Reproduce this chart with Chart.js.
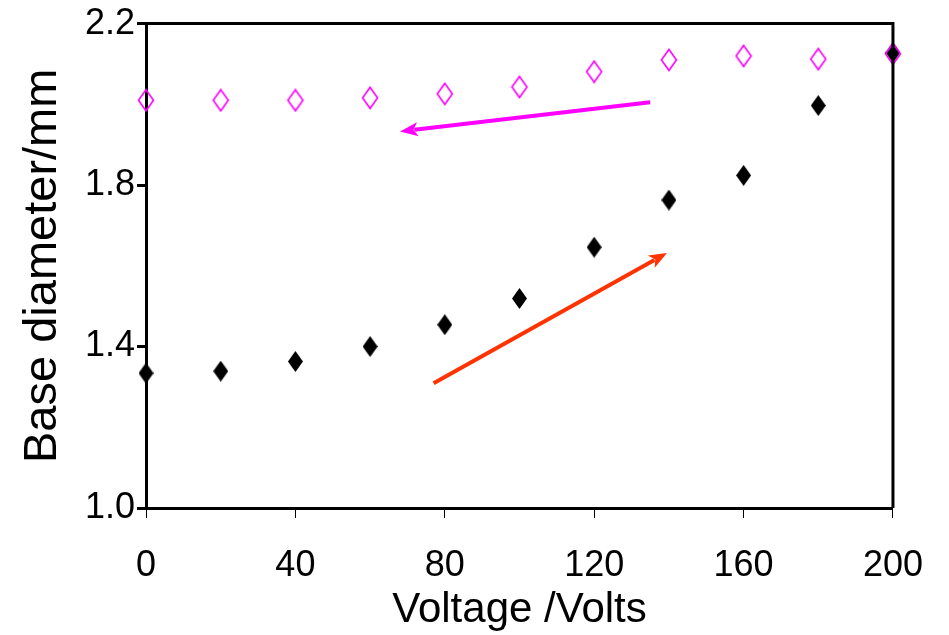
<!DOCTYPE html>
<html>
<head>
<meta charset="utf-8">
<script src="https://cdn.jsdelivr.net/npm/chart.js@4/dist/chart.umd.min.js"></script>
<style>
  html, body { margin: 0; padding: 0; background: #fff; }
  #wrap { width: 949px; height: 635px; }
</style>
</head>
<body>
<div id="wrap"><canvas id="baseChart"></canvas></div>
<script>
// data
const voltages = [0, 20, 40, 60, 80, 100, 120, 140, 160, 180, 200];
const openSeries = [2.010, 2.010, 2.010, 2.016, 2.026, 2.043, 2.081, 2.110, 2.120, 2.112, 2.125];
const filledSeries = [1.334, 1.339, 1.363, 1.400, 1.454, 1.519, 1.646, 1.763, 1.824, 1.997, 2.128];
const xTicks = [0, 40, 80, 120, 160, 200];
const yTicks = [1.0, 1.4, 1.8, 2.2];

// annotation arrows, in data units [voltage, diameter]
const arrowMagenta = [[135, 2.005], [68, 1.933]];
const arrowRed = [[77, 1.309], [139.5, 1.632]];

// tall diamond marker drawn on a small canvas
function diamond(w, h, fill, stroke, lw) {
    const c = document.createElement('canvas');
    c.width = w + lw * 2;
    c.height = h + lw * 2;
    const g = c.getContext('2d');
    const cx = c.width / 2, cy = c.height / 2;
    g.beginPath();
    g.moveTo(cx, cy - h / 2);
    g.lineTo(cx + w / 2, cy);
    g.lineTo(cx, cy + h / 2);
    g.lineTo(cx - w / 2, cy);
    g.closePath();
    if (fill) { g.fillStyle = fill; g.fill(); }
    if (stroke) { g.strokeStyle = stroke; g.lineWidth = lw; g.stroke(); }
    return c;
}

const arrowPlugin = {
    id: 'arrows',
    afterDatasetsDraw(chart) {
        const { ctx, scales: { x, y } } = chart;
        const draw = (pts, color) => {
            const x1 = x.getPixelForValue(pts[0][0]), y1 = y.getPixelForValue(pts[0][1]);
            const x2 = x.getPixelForValue(pts[1][0]), y2 = y.getPixelForValue(pts[1][1]);
            const ang = Math.atan2(y2 - y1, x2 - x1);
            const head = 18, half = 7;
            ctx.save();
            ctx.strokeStyle = color;
            ctx.fillStyle = color;
            ctx.lineWidth = 4;
            ctx.beginPath();
            ctx.moveTo(x1, y1);
            ctx.lineTo(x2 - Math.cos(ang) * head * 0.8, y2 - Math.sin(ang) * head * 0.8);
            ctx.stroke();
            ctx.beginPath();
            ctx.moveTo(x2, y2);
            ctx.lineTo(x2 - Math.cos(ang) * head - Math.sin(ang) * half,
                       y2 - Math.sin(ang) * head + Math.cos(ang) * half);
            ctx.lineTo(x2 - Math.cos(ang) * head * 0.75, y2 - Math.sin(ang) * head * 0.75);
            ctx.lineTo(x2 - Math.cos(ang) * head + Math.sin(ang) * half,
                       y2 - Math.sin(ang) * head - Math.cos(ang) * half);
            ctx.closePath();
            ctx.fill();
            ctx.restore();
        };
        draw(arrowMagenta, '#ff00ff');
        draw(arrowRed, '#ff3300');
    },
    afterDraw(chart) {
        // box round the plot area (top and right edges)
        const { ctx, chartArea: a } = chart;
        ctx.save();
        ctx.strokeStyle = '#000';
        ctx.lineWidth = 3;
        ctx.beginPath();
        ctx.moveTo(a.left, a.top);
        ctx.lineTo(a.right, a.top);
        ctx.lineTo(a.right, a.bottom);
        ctx.stroke();
        ctx.restore();
    }
};

const font = 'Liberation Sans, Arial, sans-serif';

new Chart(document.getElementById('baseChart'), {
    type: 'scatter',
    data: {
        datasets: [
            {
                label: 'open',
                data: voltages.map((v, i) => ({ x: v, y: openSeries[i] })),
                pointStyle: diamond(15, 21, null, '#ff00ff', 1.6),
                pointRadius: 11,
                clip: false
            },
            {
                label: 'filled',
                data: voltages.map((v, i) => ({ x: v, y: filledSeries[i] })),
                pointStyle: diamond(15, 21, '#000', null, 0),
                pointRadius: 11,
                clip: false
            }
        ]
    },
    options: {
        responsive: true,
        maintainAspectRatio: false,
        animation: false,
        layout: { padding: { left: 0, right: 56, top: 22, bottom: 0 } },
        plugins: {
            legend: { display: false },
            tooltip: { enabled: false }
        },
        scales: {
            x: {
                type: 'linear',
                min: 0,
                max: 200,
                afterBuildTicks: (s) => { s.ticks = xTicks.map(v => ({ value: v })); },
                afterFit: (s) => { s.height = 127; },
                border: { color: '#000', width: 3 },
                grid: { drawOnChartArea: false, drawTicks: true, tickLength: 10, tickColor: '#000', lineWidth: 1 },
                ticks: { color: '#000', font: { family: font, size: 36 }, padding: 26, maxRotation: 0 },
                title: {
                    display: true,
                    text: 'Voltage /Volts',
                    color: '#000',
                    font: { family: font, size: 42 },
                    padding: { top: 0, bottom: -1 }
                }
            },
            y: {
                min: 1.0,
                max: 2.2,
                afterBuildTicks: (s) => { s.ticks = yTicks.map(v => ({ value: v })); },
                afterFit: (s) => { s.width = 146; },
                border: { color: '#000', width: 3 },
                grid: { drawOnChartArea: false, drawTicks: true, tickLength: 9, tickColor: '#000', lineWidth: 3 },
                ticks: {
                    color: '#000',
                    font: { family: font, size: 36 },
                    padding: 2,
                    callback: (v) => v.toFixed(1)
                },
                title: {
                    display: true,
                    text: 'Base diameter/mm',
                    color: '#000',
                    font: { family: font, size: 47 },
                    padding: { top: 15, bottom: 0 }
                }
            }
        }
    },
    plugins: [arrowPlugin]
});
</script>
</body>
</html>
